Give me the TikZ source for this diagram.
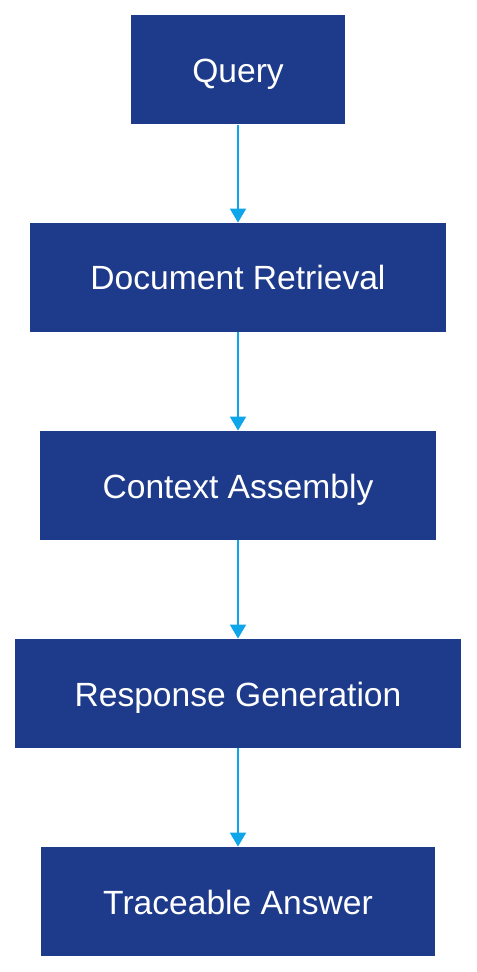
\documentclass[tikz,border=0pt]{standalone}
\usepackage{fontspec}
\setmainfont{Liberation Sans}
\usetikzlibrary{arrows.meta,positioning}
\definecolor{boxblue}{HTML}{1E3A8A}
\definecolor{arrowblue}{HTML}{0EA5E9}

\begin{document}
\begin{tikzpicture}[x=0.5pt, y=-0.5pt]
   \useasboundingbox (0,0) rectangle (476,972);
   \begin{scope}[every node/.style={rectangle,fill=boxblue,text=white,inner sep=0pt,minimum height=54.5pt,text height=14pt,text depth=1.5pt,font=\fontsize{16.8}{20}\selectfont}]
    \node (q) [minimum width=107pt] at (238,70) {Query};
    \node (dr) [minimum width=208pt] at (238,277.5) {Document Retrieval};
    \node (ca) [minimum width=198pt] at (238,485.5) {Context Assembly};
    \node (rg) [minimum width=223pt] at (238,693.5) {Response Generation};
    \node (ta) [minimum width=197pt] at (238,901.5) {Traceable Answer};
   \end{scope}
   \begin{scope}[-{Triangle[width=8pt,length=7pt]},every edge/.style={draw=arrowblue,line width=1pt}]
    \draw  (q) edge (dr);
    \draw  (dr) edge (ca);
    \draw  (ca) edge (rg);
    \draw  (rg) edge (ta);
   \end{scope}
\end{tikzpicture}
\end{document}
